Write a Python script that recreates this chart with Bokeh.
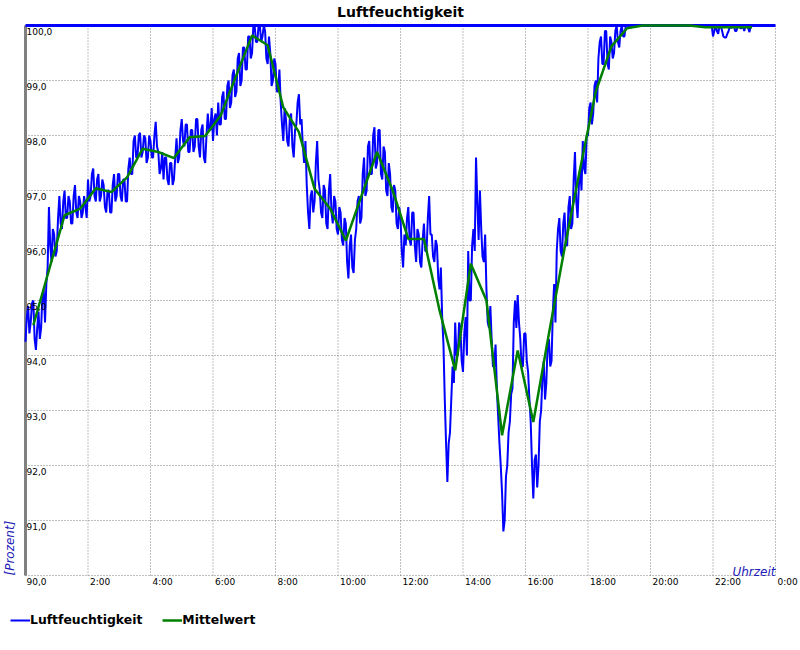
import numpy as np
from bokeh.plotting import figure
from bokeh.models import (Range1d, Label, LabelSet, ColumnDataSource, Legend, LegendItem)
from bokeh.core.properties import value
from bokeh.embed import file_html
from bokeh.resources import INLINE

# ---------------- data ----------------
title_text = "Luftfeuchtigkeit"
series_names = ["Luftfeuchtigkeit", "Mittelwert"]
x_title = "Uhrzeit"
y_title = "[Prozent]"

# humidity samples, one every 2.5 minutes from 0:00 (one row per hour)
sample_step_min = 2.5
humidity = [
    94.25, 94.7, 94.9, 94.4, 94.6, 94.95, 95.0, 94.3, 94.1, 94.5, 94.8, 94.3,
    94.5, 95.1, 95.2, 94.6, 95.3, 95.6, 96.7, 96.0, 95.7, 96.3, 96.2, 95.8,
    95.9, 96.5, 96.9, 96.4, 96.3, 96.8, 97.0, 96.5, 96.5, 96.9, 96.8, 96.4,
    96.4, 96.9, 97.1, 96.6, 96.5, 96.9, 96.8, 96.5, 96.6, 96.9, 96.7, 96.5,
    97.2, 96.8, 96.9, 97.3, 97.4, 96.9, 96.8, 97.2, 97.3, 96.8, 96.9, 97.2,
    97.1, 96.7, 96.6, 97.0, 97.0, 96.6, 96.6, 97.1, 97.3, 96.8, 96.9, 97.3,
    97.3, 96.9, 96.8, 97.2, 97.2, 96.8, 96.8, 97.4, 97.6, 97.3, 97.3, 97.9,
    98.0, 97.6, 97.6, 98.0, 98.05, 97.6, 97.7, 98.0, 97.95, 97.5, 97.6, 98.0,
    97.9, 97.6, 97.6, 98.0, 98.25, 97.8, 97.7, 97.3, 97.4, 97.7, 97.2, 97.6,
    97.6, 97.2, 97.1, 97.5, 97.5, 97.1, 97.2, 97.6, 97.95, 97.5, 97.6, 98.1,
    98.3, 97.9, 97.8, 98.2, 98.2, 97.7, 97.7, 98.1, 98.1, 97.7, 97.8, 98.3,
    98.3, 97.8, 97.6, 98.1, 98.2, 97.6, 97.5, 98.0, 98.4, 98.1, 98.1, 98.5,
    97.9, 98.3, 98.4, 98.0, 98.6, 98.2, 98.2, 98.7, 98.8, 98.3, 98.3, 98.9,
    99.0, 98.5, 98.6, 99.1, 99.2, 98.7, 98.8, 99.4, 99.5, 98.9, 99.0, 99.6,
    99.6, 99.2, 99.2, 99.8, 99.8, 99.4, 99.5, 100.0, 100.0, 99.7, 99.7, 100.0,
    100.0, 99.7, 99.8, 100.0, 99.9, 99.4, 99.3, 99.8, 99.5, 98.9, 99.0, 99.4,
    99.3, 98.8, 98.8, 99.2, 98.6, 98.2, 97.9, 98.5, 98.3, 97.9, 97.8, 98.3,
    98.4, 97.8, 97.6, 98.1, 98.2, 98.6, 98.75, 98.2, 98.3, 97.8, 97.5, 97.9,
    97.1, 96.6, 96.3, 96.9, 97.0, 96.6, 96.8, 97.5, 97.9, 97.2, 97.0, 96.6,
    96.5, 97.1, 97.0, 96.4, 96.3, 97.0, 97.3, 96.6, 96.4, 96.9, 96.8, 96.3,
    96.2, 96.7, 96.6, 96.1, 96.0, 96.5, 96.4, 95.7, 95.4, 96.0, 96.2, 95.6,
    95.5, 96.1, 96.3, 96.8, 96.9, 96.4, 96.5, 97.3, 97.6, 96.9, 97.0, 97.8,
    97.9, 97.3, 97.3, 98.0, 98.15, 97.4, 97.5, 98.1, 98.1, 97.3, 97.2, 97.8,
    97.7, 97.0, 96.9, 97.5, 97.3, 96.7, 96.6, 97.1, 97.0, 96.4, 96.3, 96.7,
    96.5, 95.9, 95.6, 96.2, 96.0, 96.5, 96.7, 96.1, 96.0, 96.6, 96.6, 96.0,
    95.7, 96.3, 96.2, 95.7, 95.6, 96.1, 96.4, 95.9, 95.9, 96.5, 96.9, 96.2,
    96.2, 95.8, 95.7, 96.1, 96.0, 95.4, 95.2, 95.6, 94.7, 94.2, 93.2, 92.4,
    91.7, 92.4, 92.6, 93.2, 93.8, 93.5, 94.6, 94.0, 94.0, 94.6, 94.5, 93.9,
    93.7, 94.4, 94.7, 94.0, 95.9, 95.0, 95.0, 96.0, 96.3, 95.9, 97.6, 96.8,
    96.1, 97.0, 96.3, 95.8, 95.7, 96.2, 95.2, 94.6, 94.5, 94.9, 94.3, 93.8,
    93.8, 94.2, 93.4, 92.9, 92.4, 92.0, 91.5, 90.8, 91.0, 91.8, 92.0, 92.6,
    92.8, 93.3, 93.4, 94.6, 95.0, 94.5, 95.1, 94.6, 94.3, 93.8, 93.8, 94.4,
    94.4, 93.9, 93.7, 93.2, 92.8, 92.0, 91.4, 92.1, 92.2, 91.6, 92.0, 92.8,
    93.0, 93.6, 93.9, 93.2, 93.5, 94.2, 94.3, 93.8, 93.9, 94.8, 95.3, 94.6,
    95.9, 96.3, 96.5, 95.9, 95.8, 96.4, 96.6, 96.0, 96.0, 96.7, 96.9, 96.3,
    96.4, 97.2, 97.7, 96.8, 96.5, 97.1, 97.4, 97.0, 97.9, 97.4, 97.3, 98.0,
    98.0, 98.5, 98.6, 98.2, 98.4, 98.9, 99.0, 98.6, 99.4, 99.7, 99.8, 99.3,
    99.3, 99.9, 99.9, 99.3, 99.2, 99.8, 99.7, 99.4, 99.5, 99.9, 100.0, 99.7,
    99.6, 99.9, 100.0, 99.8, 99.8, 100.0, 100.0, 100.0, 100.0, 100.0, 100.0, 100.0,
    100.0, 100.0, 100.0, 100.0, 100.0, 100.0, 100.0, 100.0, 100.0, 100.0, 100.0, 100.0,
    100.0, 100.0, 100.0, 100.0, 100.0, 100.0, 100.0, 100.0, 100.0, 100.0, 100.0, 100.0,
    100.0, 100.0, 100.0, 100.0, 100.0, 100.0, 100.0, 100.0, 100.0, 100.0, 100.0, 100.0,
    100.0, 100.0, 100.0, 100.0, 100.0, 100.0, 100.0, 100.0, 100.0, 100.0, 100.0, 100.0,
    100.0, 100.0, 100.0, 100.0, 100.0, 100.0, 100.0, 100.0, 100.0, 100.0, 100.0, 100.0,
    99.8, 99.9, 100.0, 99.9, 99.85, 100.0, 100.0, 99.9, 99.8, 99.78, 99.78, 99.85,
    99.9, 100.0, 99.95, 100.0, 100.0, 99.9, 99.9, 100.0, 100.0, 99.95, 99.95, 100.0,
    99.9, 100.0, 100.0, 99.95, 99.88, 100.0, 100.0, 100.0,
]

# moving average (hours, percent)
mean_hours = [0.25, 0.75, 1.25, 1.75, 2.25, 2.75, 3.25, 3.75, 4.25, 4.75, 5.25, 5.75,
              6.25, 6.75, 7.25, 7.75, 8.25, 8.75, 9.25, 9.75, 10.25, 10.75, 11.25, 11.75,
              12.25, 12.75, 13.25, 13.75, 14.25, 14.75, 15.25, 15.75, 16.25, 16.75, 17.25, 17.75,
              18.25, 18.75, 19.25, 19.75, 20.25, 20.75, 21.25, 21.75, 22.25, 22.75, 23.25]
mean_values = [94.55, 95.55, 96.55, 96.67, 97.04, 96.97, 97.24, 97.76, 97.70, 97.59, 97.97, 97.99,
               98.37, 99.10, 99.82, 99.64, 98.51, 98.06, 97.03, 96.67, 96.09, 96.90, 97.70, 97.00,
               96.12, 96.12, 94.82, 93.73, 95.67, 95.00, 92.55, 94.09, 92.79, 94.40, 95.95, 97.40,
               98.80, 99.62, 99.95, 100.0, 100.0, 100.0, 100.0, 99.97, 99.97, 99.97, 99.97]

x_min, x_max = 0, 24
y_min, y_max = 90, 100
x_ticks = [2, 4, 6, 8, 10, 12, 14, 16, 18, 20, 22, 24]
x_tick_labels = ["2:00", "4:00", "6:00", "8:00", "10:00", "12:00", "14:00", "16:00",
                 "18:00", "20:00", "22:00", "0:00"]
y_ticks = [90, 91, 92, 93, 94, 95, 96, 97, 98, 99, 100]
y_tick_labels = ["90,0", "91,0", "92,0", "93,0", "94,0", "95,0", "96,0", "97,0",
                 "98,0", "99,0", "100,0"]

# ---------------- layout (pixels) ----------------
W, H = 800, 650
PL, PR, PT, PB = 25, 25, 25, 75           # plot-area margins inside the canvas
FONT = "DejaVu Sans"
px_x = (W - PL - PR) / (x_max - x_min)
px_y = (H - PT - PB) / (y_max - y_min)

sample_hours = [i * sample_step_min / 60.0 for i in range(len(humidity))]

p = figure(width=W, height=H,
           x_range=Range1d(x_min - PL / px_x, x_max + PR / px_x),
           y_range=Range1d(y_min - PB / px_y, y_max + PT / px_y),
           x_axis_type=None, y_axis_type=None, output_backend="svg",
           toolbar_location=None, min_border=0)
p.outline_line_color = None
p.background_fill_color = "white"
p.border_fill_color = "white"
p.grid.visible = False

# dotted grid inside the plot area
vx = [x_min] + x_ticks
p.segment(x0=vx, y0=[y_min] * len(vx), x1=vx, y1=[y_max] * len(vx),
          line_color="#808080", line_dash="1 2", line_width=1)
p.segment(x0=[x_min] * len(y_ticks), y0=y_ticks, x1=[x_max] * len(y_ticks), y1=y_ticks,
          line_color="#808080", line_dash="1 2", line_width=1)

# left axis line and top border line
p.segment(x0=[x_min], y0=[y_min], x1=[x_min], y1=[y_max], line_color="#808080", line_width=3)
p.segment(x0=[x_min], y0=[y_max], x1=[x_max], y1=[y_max], line_color="#0000ff", line_width=3)

src_h = ColumnDataSource(dict(x=sample_hours, y=humidity))
src_m = ColumnDataSource(dict(x=mean_hours, y=mean_values))
r_blue = p.line("x", "y", source=src_h, line_color="#0000ff", line_width=2)
r_green = p.line("x", "y", source=src_m, line_color="#008000", line_width=2.5)

ysrc = ColumnDataSource(dict(x=[x_min] * len(y_ticks), y=y_ticks, t=y_tick_labels))
p.add_layout(LabelSet(x="x", y="y", text="t", source=ysrc, x_offset=1, y_offset=-9,
                      text_baseline="alphabetic", text_align="left",
                      text_font=value(FONT), text_font_size="9px", text_color="black"))
xsrc = ColumnDataSource(dict(x=x_ticks, y=[y_min] * len(x_ticks), t=x_tick_labels))
p.add_layout(LabelSet(x="x", y="y", text="t", source=xsrc, x_offset=2, y_offset=-9,
                      text_baseline="alphabetic", text_align="left",
                      text_font=value(FONT), text_font_size="9px", text_color="black"))

p.add_layout(Label(x=(x_min + x_max) / 2, y=y_max, text=title_text, y_offset=14,
                   text_align="center", text_baseline="alphabetic", text_font=FONT,
                   text_font_size="14px", text_font_style="bold", text_color="black"))
p.add_layout(Label(x=x_max, y=y_min, text=x_title, y_offset=4, text_align="right",
                   text_baseline="alphabetic", text_font=FONT,
                   text_font_size="12px", text_font_style="italic", text_color="#2020b8"))
p.add_layout(Label(x=x_min, y=y_min, text=y_title, x_offset=-16, angle=np.pi / 2,
                   text_align="left", text_baseline="alphabetic", text_font=FONT,
                   text_font_size="12px", text_font_style="italic", text_color="#2020b8"))

legend = Legend(items=[LegendItem(label=series_names[0], renderers=[r_blue]),
                       LegendItem(label=series_names[1], renderers=[r_green])],
                location=(10, 20.5), orientation="horizontal", glyph_width=20,
                glyph_height=20, label_height=20, label_width=20, label_standoff=0,
                spacing=20, padding=0, margin=0, border_line_color=None,
                background_fill_alpha=0, label_text_font=FONT,
                label_text_font_size="12.4px", label_text_font_style="bold",
                label_text_baseline="alphabetic", label_text_color="black")
p.add_layout(legend)

open("out.html", "w").write(file_html(p, INLINE))
